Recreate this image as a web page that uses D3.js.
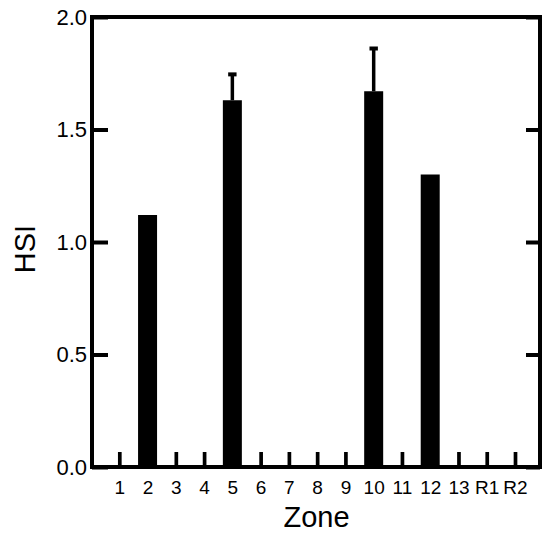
<!DOCTYPE html>
<html>
<head>
<meta charset="utf-8">
<script src="https://cdn.jsdelivr.net/npm/d3@7"></script>
<style>
  html, body { margin: 0; padding: 0; background: #fff; }
  svg { display: block; font-family: "Liberation Sans", Arial, sans-serif; }
</style>
</head>
<body>
<svg id="chart" width="542" height="533"></svg>
<script>
// Zones sampled and mean HSI with standard error
const zones = ["1", "2", "3", "4", "5", "6", "7", "8", "9", "10", "11", "12", "13", "R1", "R2"];
const hsi   = [0, 1.12, 0, 0, 1.63, 0, 0, 0, 0, 1.67, 0, 1.30, 0, 0, 0];
const se    = [0, 0, 0, 0, 0.115, 0, 0, 0, 0, 0.19, 0, 0, 0, 0, 0];
const yTicks = [0, 0.5, 1.0, 1.5, 2.0];

const data = zones.map((z, i) => ({ zone: z, value: hsi[i], err: se[i] }));

const svg = d3.select("#chart");
const frame = { left: 92, top: 17, right: 540, bottom: 467 };

const x = d3.scalePoint()
  .domain(zones)
  .range([frame.left + 27.3, frame.right - 25]);

const y = d3.scaleLinear()
  .domain([0, 2])
  .range([frame.bottom, frame.top]);

const barW = 19;

// bars
svg.append("g")
  .selectAll("rect")
  .data(data.filter(d => d.value > 0))
  .join("rect")
  .attr("x", d => x(d.zone) - barW / 2)
  .attr("y", d => y(d.value))
  .attr("width", barW)
  .attr("height", d => y(0) - y(d.value))
  .attr("fill", "#000");

// error bars (upper whisker only)
const eb = svg.append("g")
  .selectAll("g")
  .data(data.filter(d => d.err > 0))
  .join("g");
eb.append("line")
  .attr("x1", d => x(d.zone)).attr("x2", d => x(d.zone))
  .attr("y1", d => y(d.value)).attr("y2", d => y(d.value + d.err))
  .attr("stroke", "#000").attr("stroke-width", 3.5);
eb.append("line")
  .attr("x1", d => x(d.zone) - 4.2).attr("x2", d => x(d.zone) + 4.2)
  .attr("y1", d => y(d.value + d.err)).attr("y2", d => y(d.value + d.err))
  .attr("stroke", "#000").attr("stroke-width", 4);

// left axis with inward ticks
const yAxis = svg.append("g")
  .attr("transform", `translate(${frame.left},0)`)
  .call(d3.axisLeft(y).tickValues(yTicks).tickFormat(d3.format(".1f"))
    .tickSizeInner(-16).tickSizeOuter(0).tickPadding(5));
yAxis.select(".domain").remove();
yAxis.selectAll(".tick line").attr("stroke", "#000").attr("stroke-width", 4);
yAxis.selectAll(".tick text").attr("fill", "#000").style("font-size", "22px");

// right axis, ticks only
const yAxisR = svg.append("g")
  .attr("transform", `translate(${frame.right},0)`)
  .call(d3.axisRight(y).tickValues(yTicks).tickFormat("")
    .tickSizeInner(-14).tickSizeOuter(0));
yAxisR.select(".domain").remove();
yAxisR.selectAll(".tick line").attr("stroke", "#000").attr("stroke-width", 4);

// bottom axis with upward ticks
const xAxis = svg.append("g")
  .attr("transform", `translate(0,${frame.bottom})`)
  .call(d3.axisBottom(x).tickSizeInner(-15).tickSizeOuter(0).tickPadding(14));
xAxis.select(".domain").remove();
xAxis.selectAll(".tick line").attr("stroke", "#000").attr("stroke-width", 3.7);
xAxis.selectAll(".tick text").attr("fill", "#000").style("font-size", "19px");

// plot frame
svg.append("rect")
  .attr("x", frame.left).attr("y", frame.top)
  .attr("width", frame.right - frame.left)
  .attr("height", frame.bottom - frame.top)
  .attr("fill", "none").attr("stroke", "#000").attr("stroke-width", 4);

// axis titles
svg.append("text")
  .attr("x", 316.5).attr("y", 527)
  .attr("text-anchor", "middle")
  .style("font-size", "29px")
  .text("Zone");

svg.append("text")
  .attr("transform", "translate(35,249) rotate(-90)")
  .attr("text-anchor", "middle")
  .style("font-size", "29px")
  .text("HSI");
</script>
</body>
</html>
